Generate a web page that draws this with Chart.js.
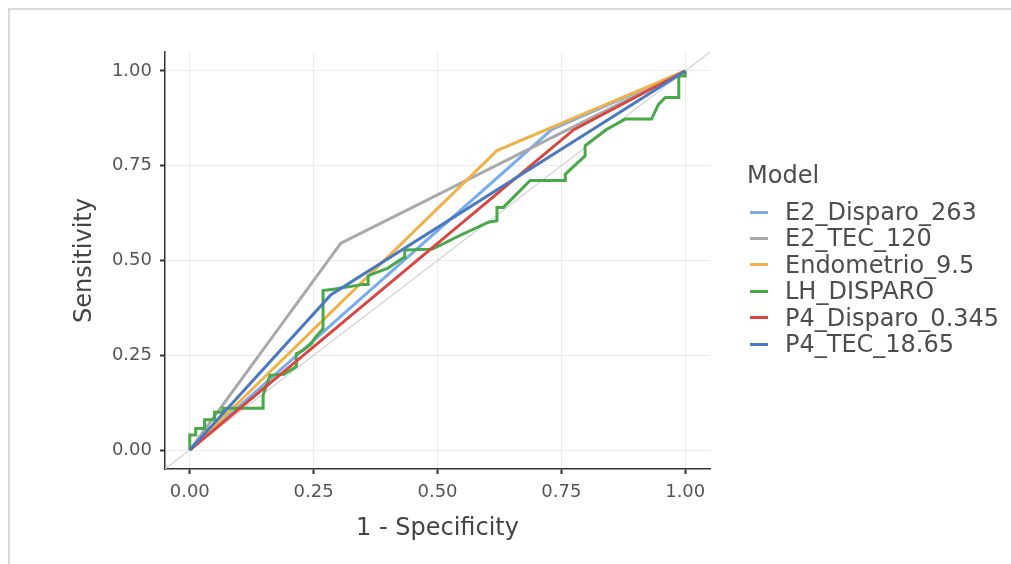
<!DOCTYPE html>
<html><head><meta charset="utf-8">
<script src="https://cdn.jsdelivr.net/npm/chart.js@4.4.1/dist/chart.umd.min.js"></script>
<style>
html,body{margin:0;padding:0;background:#fff;width:1011px;height:564px;overflow:hidden;font-family:'DejaVu Sans',sans-serif;}
#frame{position:absolute;left:8px;top:8px;width:1100px;height:700px;border-top:2px solid #dadada;border-left:2px solid #dadada;}
#c{position:absolute;left:0;top:0;}
.lt{position:absolute;left:747px;font-size:24px;color:#4d4d4d;line-height:28px;white-space:nowrap;}
.row{position:absolute;left:750px;height:26px;display:flex;align-items:center;font-size:24px;color:#4d4d4d;white-space:nowrap;}
.key{width:18px;height:3px;margin-right:17px;}
</style></head><body>
<div id="frame"></div>
<canvas id="c" width="1011" height="564"></canvas>
<div id="legend"></div>
<script>
// ---- data (1 - specificity, sensitivity) ----
const seriesNames = ["E2_Disparo_263", "E2_TEC_120", "Endometrio_9.5", "LH_DISPARO", "P4_Disparo_0.345", "P4_TEC_18.65"];
const seriesColors = ["#78acea", "#a9a9a9", "#efb24a", "#47a947", "#d9463f", "#4a79bf"];

const e2DisparoFpr = [0, 0.731, 1];
const e2DisparoSens = [0, 0.846, 1];

const e2TecFpr = [0, 0.305, 1];
const e2TecSens = [0, 0.546, 1];

const endometrioFpr = [0, 0.62, 1];
const endometrioSens = [0, 0.79, 1];

const lhDisparoFpr = [0, 0, 0.012, 0.012, 0.03, 0.03, 0.05, 0.05, 0.067, 0.067, 0.148, 0.148, 0.162, 0.19, 0.215, 0.215, 0.229, 0.245, 0.255, 0.269, 0.269, 0.293, 0.35, 0.36, 0.36, 0.40, 0.431, 0.434, 0.434, 0.49, 0.545, 0.603, 0.62, 0.62, 0.633, 0.687, 0.758, 0.758, 0.798, 0.798, 0.84, 0.879, 0.932, 0.946, 0.96, 0.987, 0.987, 1.0, 1.0];
const lhDisparoSens = [0, 0.04, 0.04, 0.057, 0.057, 0.08, 0.08, 0.1, 0.1, 0.11, 0.11, 0.145, 0.197, 0.2, 0.22, 0.254, 0.263, 0.28, 0.3, 0.32, 0.421, 0.425, 0.437, 0.437, 0.46, 0.48, 0.507, 0.507, 0.528, 0.53, 0.566, 0.601, 0.605, 0.64, 0.64, 0.711, 0.711, 0.728, 0.776, 0.803, 0.845, 0.873, 0.873, 0.912, 0.93, 0.93, 0.987, 0.987, 1.0];

const p4DisparoFpr = [0, 0.775, 1];
const p4DisparoSens = [0, 0.845, 1];

const p4TecFpr = [0, 0.285, 1];
const p4TecSens = [0, 0.41, 1];

const refLineX = [-0.05, 1.05];
const refLineY = [-0.05, 1.05];

const tickValues = [0, 0.25, 0.5, 0.75, 1];
const tickLabels = ["0.00", "0.25", "0.50", "0.75", "1.00"];

// ---- build ----
const seriesFpr = [e2DisparoFpr, e2TecFpr, endometrioFpr, lhDisparoFpr, p4DisparoFpr, p4TecFpr];
const seriesSens = [e2DisparoSens, e2TecSens, endometrioSens, lhDisparoSens, p4DisparoSens, p4TecSens];
const toPts = (xs, ys) => xs.map((x, i) => ({x: x, y: ys[i]}));

const datasets = seriesNames.map((name, i) => ({
  label: name,
  data: toPts(seriesFpr[i], seriesSens[i]),
  borderColor: seriesColors[i],
  backgroundColor: seriesColors[i],
  borderWidth: 3,
  pointRadius: 0,
  fill: false,
  tension: 0,
  order: seriesNames.length - i
}));
datasets.push({
  label: "ref",
  data: toPts(refLineX, refLineY),
  borderColor: "#d2d2d2",
  borderWidth: 1.2,
  pointRadius: 0,
  fill: false,
  order: 20
});

Chart.defaults.font.family = "'DejaVu Sans', sans-serif";
const labelFor = v => { const k = tickValues.indexOf(v); return k >= 0 ? tickLabels[k] : ""; };
const fixTicks = s => { s.ticks = tickValues.map(v => ({value: v})); };

new Chart(document.getElementById("c"), {
  type: "line",
  data: {datasets: datasets},
  options: {
    responsive: false,
    animation: false,
    devicePixelRatio: 1,
    layout: {padding: {left: 50, top: 52, right: 301, bottom: 0}},
    plugins: {legend: {display: false}, tooltip: {enabled: false}},
    scales: {
      x: {
        type: "linear", min: -0.05, max: 1.05,
        afterBuildTicks: fixTicks,
        afterFit: s => { s.height = 95; },
        grid: {color: "#ececec", lineWidth: 1, drawTicks: true, tickLength: 5, tickColor: "#333", tickWidth: 2},
        border: {display: true, color: "#333", width: 1.5},
        ticks: {font: {size: 18}, color: "#555", padding: 8, maxRotation: 0, autoSkip: false, callback: v => labelFor(v)},
        title: {display: true, text: "1 - Specificity", font: {size: 24}, color: "#444", padding: {top: 0, bottom: 21}}
      },
      y: {
        type: "linear", min: -0.05, max: 1.05,
        afterBuildTicks: fixTicks,
        afterFit: s => { s.width = 115; },
        grid: {color: "#ececec", lineWidth: 1, drawTicks: true, tickLength: 5, tickColor: "#333", tickWidth: 2},
        border: {display: true, color: "#333", width: 1.5},
        ticks: {font: {size: 18}, color: "#555", padding: 8, autoSkip: false, callback: v => labelFor(v)},
        title: {display: true, text: "Sensitivity", font: {size: 24}, color: "#444", padding: {top: 20, bottom: 0}}
      }
    }
  }
});

// ---- legend ----
const lg = document.getElementById("legend");
const t = document.createElement("div");
t.className = "lt"; t.style.top = "161px"; t.textContent = "Model";
lg.appendChild(t);
seriesNames.forEach((name, i) => {
  const r = document.createElement("div");
  r.className = "row";
  r.style.top = (212 - 13 + i * 26.4) + "px";
  const k = document.createElement("span");
  k.className = "key"; k.style.background = seriesColors[i];
  const s = document.createElement("span");
  s.textContent = name;
  r.appendChild(k); r.appendChild(s);
  lg.appendChild(r);
});
</script>
</body></html>
